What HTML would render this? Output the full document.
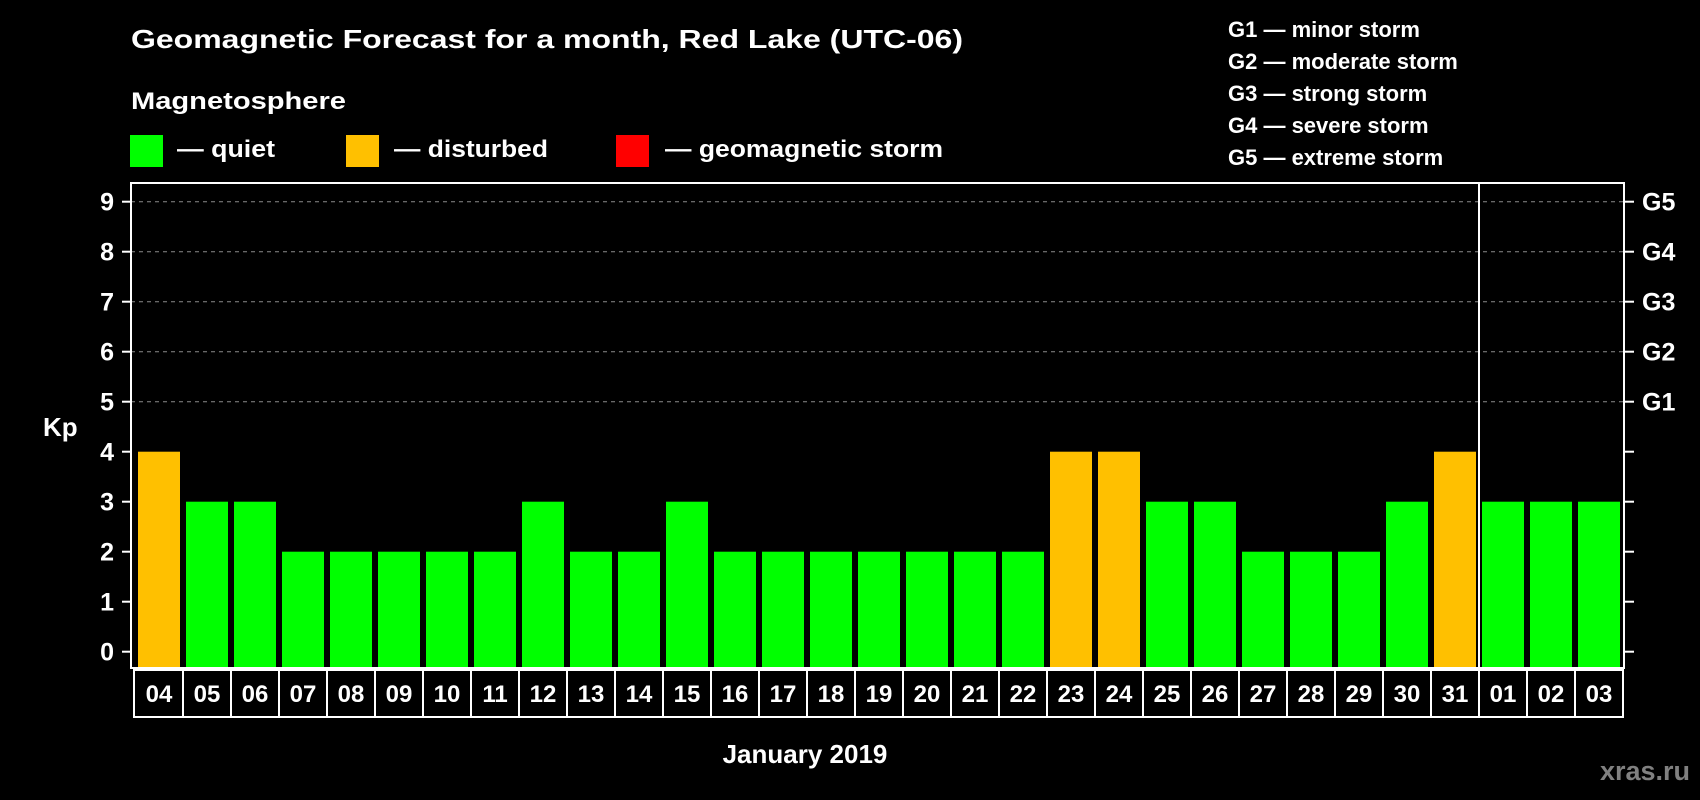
<!DOCTYPE html>
<html><head><meta charset="utf-8"><style>
html,body{margin:0;padding:0;background:#000;width:1700px;height:800px;overflow:hidden}
svg{display:block;font-family:"Liberation Sans",Arial,sans-serif;font-weight:bold}
</style></head><body>
<svg id="chart" width="1700" height="800" viewBox="0 0 1700 800" xmlns="http://www.w3.org/2000/svg">
<rect width="1700" height="800" fill="#000"/>
<text x="131" y="48" fill="#fff" font-size="26" textLength="832" lengthAdjust="spacingAndGlyphs">Geomagnetic Forecast for a month, Red Lake (UTC-06)</text>
<text x="131" y="109" fill="#fff" font-size="24" textLength="215" lengthAdjust="spacingAndGlyphs">Magnetosphere</text>
<g>
<rect x="130" y="135" width="33" height="32" fill="#00ff00"/>
<text x="177" y="157" fill="#fff" font-size="24" textLength="98" lengthAdjust="spacingAndGlyphs">— quiet</text></g>
<g>
<rect x="346" y="135" width="33" height="32" fill="#ffc000"/>
<text x="394" y="157" fill="#fff" font-size="24" textLength="154" lengthAdjust="spacingAndGlyphs">— disturbed</text></g>
<g>
<rect x="616" y="135" width="33" height="32" fill="#ff0000"/>
<text x="665" y="157" fill="#fff" font-size="24" textLength="278" lengthAdjust="spacingAndGlyphs">— geomagnetic storm</text></g>
<g font-size="22" fill="#fff">
<text x="1228" y="37">G1 — minor storm</text>
<text x="1228" y="69">G2 — moderate storm</text>
<text x="1228" y="101">G3 — strong storm</text>
<text x="1228" y="133">G4 — severe storm</text>
<text x="1228" y="165">G5 — extreme storm</text>
</g>
<g id="grid"></g>
<g id="bars"></g>
<g id="axes"></g>
<g id="dates"></g>
<text x="43" y="436" fill="#fff" font-size="26">Kp</text>
<text x="805" y="763" fill="#fff" font-size="26" text-anchor="middle">January 2019</text>
<text x="1690" y="780" fill="#808080" font-size="27" text-anchor="end">xras.ru</text>
</svg>
<script>
const days = ["04","05","06","07","08","09","10","11","12","13","14","15","16","17","18","19","20","21","22","23","24","25","26","27","28","29","30","31","01","02","03"];
const kpValues = [4,3,3,2,2,2,2,2,3,2,2,3,2,2,2,2,2,2,2,4,4,3,3,2,2,2,3,4,3,3,3];
const yTicks = [0,1,2,3,4,5,6,7,8,9];
const gLabels = ["G1","G2","G3","G4","G5"];
const gLevels = [5,6,7,8,9];
const monthBreakIndex = 28;

const NS = "http://www.w3.org/2000/svg";
const L = 131, R = 1624, T = 183, B = 668;
const pitch = 48, barW = 42, x0 = 138;
function yScale(v){ return 651.7 - v * 50; }
function xScale(i){ return x0 + i * pitch; }
function mk(tag, attrs, parent){ const e = document.createElementNS(NS, tag); for (const k in attrs) e.setAttribute(k, attrs[k]); parent.appendChild(e); return e; }

const grid = document.getElementById('grid');
gLevels.forEach(v => {
  const ln = mk('line', {x1:L, x2:R, y1:yScale(v), y2:yScale(v), stroke:'#8a8a8a', 'stroke-width':1, 'stroke-dasharray':'4 4'}, grid);
  
  
});

const bars = document.getElementById('bars');
kpValues.forEach((v, i) => {
  const color = v >= 5 ? '#ff0000' : (v >= 4 ? '#ffc000' : '#00ff00');
  const r = mk('rect', {x:xScale(i), y:yScale(v), width:barW, height:B - yScale(v), fill:color}, bars);
  
  
});

const axes = document.getElementById('axes');
const frame = mk('rect', {x:L, y:T, width:R - L, height:B - T, fill:'none', stroke:'#fff', 'stroke-width':2}, axes);


const sepX = (xScale(monthBreakIndex - 1) + barW + xScale(monthBreakIndex)) / 2;
const sep = mk('line', {x1:sepX, x2:sepX, y1:T, y2:B, stroke:'#fff', 'stroke-width':2}, axes);


yTicks.forEach(v => {
  const y = yScale(v);
  const tl = mk('line', {x1:L - 9, x2:L, y1:y, y2:y, stroke:'#fff', 'stroke-width':2}, axes);
  
  
  const tr = mk('line', {x1:R, x2:R + 10, y1:y, y2:y, stroke:'#fff', 'stroke-width':2}, axes);
  
  
  const t = mk('text', {x:114, y:y + 9, fill:'#fff', 'font-size':25, 'text-anchor':'end'}, axes);
  t.textContent = v;
  
  
});
gLabels.forEach((g, i) => {
  const t = mk('text', {x:1642, y:yScale(gLevels[i]) + 9, fill:'#fff', 'font-size':25}, axes);
  t.textContent = g;
  
  
});

const dates = document.getElementById('dates');
const dbox = mk('rect', {x:134, y:670, width:1623 - 134, height:47, fill:'none', stroke:'#fff', 'stroke-width':2}, dates);


days.forEach((d, i) => {
  if (i > 0) {
    const dx = xScale(i) - 3;
    const dl = mk('line', {x1:dx, x2:dx, y1:670, y2:717, stroke:'#fff', 'stroke-width':2}, dates);
    
    
  }
  const t = mk('text', {x:xScale(i) + barW / 2, y:702, fill:'#fff', 'font-size':24, 'text-anchor':'middle'}, dates);
  t.textContent = d;
  
  
});
</script>
</body></html>
